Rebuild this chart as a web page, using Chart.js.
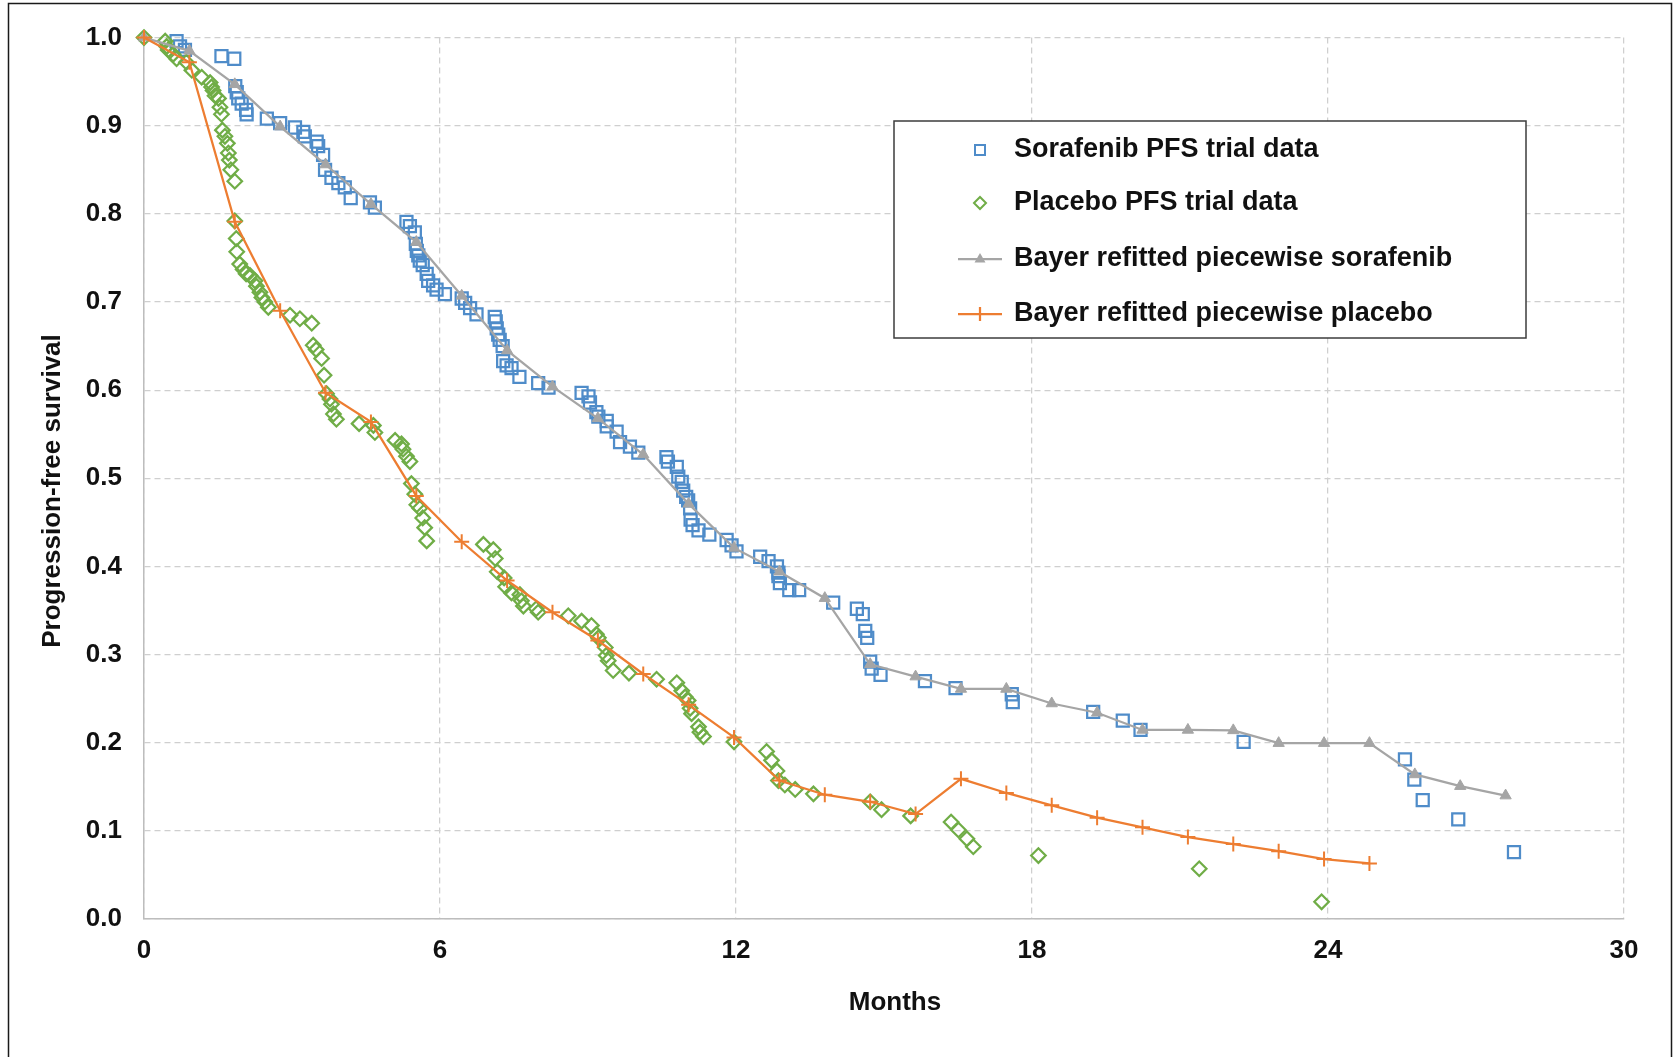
<!DOCTYPE html>
<html>
<head>
<meta charset="utf-8">
<title>Progression-free survival</title>
<script src="https://cdn.jsdelivr.net/npm/chart.js@4.4.0/dist/chart.umd.min.js"></script>
<style>
  html, body { margin: 0; padding: 0; background: #fff; }
  #pfs { display: block; }
</style>
</head>
<body>
<canvas id="pfs" width="1677" height="1057"></canvas>
<script>
// PFS curves: sorafenib vs placebo trial data + Bayer piecewise refit

const monthTicks = [0, 6, 12, 18, 24, 30];
const monthTickLabels = ["0", "6", "12", "18", "24", "30"];
const survivalTicks = [0, 0.1, 0.2, 0.3, 0.4, 0.5, 0.6, 0.7, 0.8, 0.9, 1.0];
const survivalTickLabels = ["0.0", "0.1", "0.2", "0.3", "0.4", "0.5", "0.6", "0.7", "0.8", "0.9", "1.0"];
const xTitle = "Months";
const yTitle = "Progression-free survival";

// Sorafenib PFS trial data (squares)
const soraMonths = [
  0.66, 0.73, 0.83, 1.57, 1.83, 1.85, 1.88, 1.91, 1.98, 2.07, 2.08, 2.49, 2.76, 3.06, 3.23, 3.26,
  3.50, 3.53, 3.63, 3.67, 3.80, 3.94, 4.07, 4.19, 4.58, 4.68, 5.32, 5.39, 5.49, 5.51, 5.53, 5.56,
  5.59, 5.65, 5.73, 5.76, 5.86, 5.93, 6.10, 6.44, 6.51, 6.61, 6.74, 7.11, 7.13, 7.15, 7.18, 7.21,
  7.27, 7.28, 7.35, 7.45, 7.61, 7.99, 8.20, 8.87, 9.01, 9.04, 9.17, 9.21, 9.38, 9.38, 9.58, 9.65,
  9.85, 10.02, 10.59, 10.62, 10.80, 10.83, 10.90, 10.93, 10.99, 11.03, 11.07, 11.08, 11.12, 11.24,
  11.46, 11.81, 11.91, 12.01, 12.49, 12.66, 12.83, 12.86, 12.86, 12.89, 13.08, 13.28, 13.97, 14.45,
  14.57, 14.62, 14.66, 14.72, 14.75, 14.93, 15.83, 16.45, 17.59, 17.61, 19.24, 19.84, 20.20, 22.29,
  25.56, 25.75, 25.92, 26.64, 27.77
];
const soraPFS = [
  0.996, 0.990, 0.986, 0.979, 0.976, 0.945, 0.938, 0.931, 0.925, 0.918, 0.913, 0.908, 0.903, 0.898, 0.893, 0.888,
  0.882, 0.877, 0.867, 0.850, 0.841, 0.835, 0.830, 0.818, 0.813, 0.807, 0.791, 0.786, 0.779, 0.766, 0.758, 0.753,
  0.747, 0.742, 0.732, 0.724, 0.719, 0.714, 0.709, 0.704, 0.699, 0.693, 0.686, 0.683, 0.678, 0.670, 0.663, 0.657,
  0.650, 0.633, 0.628, 0.625, 0.615, 0.608, 0.603, 0.597, 0.593, 0.586, 0.575, 0.570, 0.565, 0.559, 0.553, 0.541,
  0.536, 0.529, 0.524, 0.519, 0.513, 0.502, 0.496, 0.486, 0.479, 0.475, 0.466, 0.453, 0.447, 0.441,
  0.436, 0.430, 0.424, 0.417, 0.411, 0.406, 0.400, 0.393, 0.389, 0.381, 0.373, 0.373, 0.359, 0.352,
  0.346, 0.327, 0.319, 0.292, 0.284, 0.277, 0.270, 0.262, 0.255, 0.246, 0.235, 0.225, 0.2145, 0.201,
  0.181, 0.158, 0.135, 0.113, 0.076
];

// Placebo PFS trial data (diamonds)
const placMonths = [
  0, 0.43, 0.46, 0.49, 0.59, 0.66, 0.86, 0.97, 1.17, 1.34, 1.37, 1.40, 1.44, 1.51, 1.54, 1.57,
  1.59, 1.64, 1.69, 1.71, 1.73, 1.76, 1.84, 1.84, 1.87, 1.88, 1.94, 2.01, 2.07, 2.15, 2.25, 2.28,
  2.35, 2.39, 2.45, 2.52, 2.96, 3.16, 3.40, 3.43, 3.49, 3.60, 3.65, 3.70, 3.77, 3.80, 3.84, 3.90,
  4.36, 4.65, 4.68, 5.09, 5.22, 5.25, 5.32, 5.39, 5.42, 5.49, 5.53, 5.59, 5.65, 5.69, 5.73, 6.88,
  7.08, 7.12, 7.16, 7.30, 7.33, 7.45, 7.62, 7.65, 7.69, 7.95, 7.99, 8.60, 8.87, 9.07, 9.17, 9.21,
  9.35, 9.37, 9.41, 9.51, 9.83, 10.39, 10.80, 10.90, 10.97, 11.03, 11.07, 11.10, 11.24, 11.27, 11.34,
  11.96, 12.62, 12.72, 12.83, 12.86, 12.99, 13.20, 13.57, 14.72, 14.95, 15.54, 16.36, 16.51, 16.68,
  16.81, 18.13, 21.39, 23.87
];
const placPFS = [
  1.0, 0.996, 0.990, 0.986, 0.981, 0.976, 0.972, 0.963, 0.955, 0.949, 0.944, 0.940, 0.934, 0.931, 0.921, 0.913,
  0.895, 0.888, 0.880, 0.869, 0.861, 0.850, 0.837, 0.792, 0.772, 0.757, 0.743, 0.737, 0.732, 0.730, 0.724, 0.718,
  0.711, 0.705, 0.700, 0.694, 0.685, 0.681, 0.676, 0.651, 0.646, 0.636, 0.617, 0.596, 0.590, 0.584, 0.573, 0.567,
  0.562, 0.560, 0.552, 0.543, 0.539, 0.533, 0.525, 0.519, 0.494, 0.482, 0.470, 0.466, 0.455, 0.444, 0.429, 0.425,
  0.419, 0.409, 0.394, 0.387, 0.377, 0.370, 0.368, 0.361, 0.355, 0.352, 0.348, 0.344, 0.338, 0.333, 0.323, 0.319,
  0.308, 0.299, 0.293, 0.282, 0.279, 0.272, 0.268, 0.259, 0.252, 0.248, 0.239, 0.233, 0.218, 0.212, 0.207,
  0.201, 0.190, 0.180, 0.168, 0.157, 0.152, 0.147, 0.142, 0.133, 0.124, 0.117, 0.110, 0.101, 0.091,
  0.082, 0.072, 0.057, 0.0195
];

// Bayer refitted piecewise curves (4-weekly points)
const fitSoraMonths = [0, 0.92, 1.84, 2.76, 3.68, 4.6, 5.52, 6.44, 7.36, 8.28, 9.2, 10.12, 11.04, 11.96, 12.88,
  13.8, 14.72, 15.64, 16.56, 17.48, 18.4, 19.32, 20.24, 21.16, 22.08, 23.0, 23.92, 24.84, 25.76, 26.68, 27.6];
const fitSoraPFS = [1.0, 0.985, 0.947, 0.899, 0.856, 0.811, 0.768, 0.707, 0.645, 0.604, 0.568, 0.527, 0.471, 0.421, 0.394,
  0.364, 0.289, 0.275, 0.261, 0.261, 0.2445, 0.234, 0.2145, 0.2145, 0.214, 0.1995, 0.1995, 0.1995, 0.164, 0.1507, 0.140];

const fitPlacMonths = [0, 0.92, 1.84, 2.76, 3.68, 4.6, 5.52, 6.44, 7.36, 8.28, 9.2, 10.12, 11.04, 11.96, 12.88,
  13.8, 14.72, 15.64, 16.56, 17.48, 18.4, 19.32, 20.24, 21.16, 22.08, 23.0, 23.92, 24.84];
const fitPlacPFS = [1.0, 0.972, 0.791, 0.690, 0.597, 0.564, 0.480, 0.428, 0.384, 0.348, 0.316, 0.278, 0.243, 0.206, 0.157,
  0.141, 0.133, 0.119, 0.159, 0.143, 0.129, 0.115, 0.104, 0.093, 0.085, 0.077, 0.068, 0.063];

const BLUE = "#4f8cc9";
const GREEN = "#70ad47";
const GREY = "#a5a5a5";
const ORANGE = "#ed7d31";
const TEXT = "#111111";
const FONT = "'Liberation Sans', Arial, Helvetica, sans-serif";

function toPoints(xs, ys) {
  return xs.map(function (x, i) {
    return { x: x, y: ys[i] };
  });
}

const legendItems = [
  { label: "Sorafenib PFS trial data", kind: "square", color: BLUE },
  { label: "Placebo PFS trial data", kind: "diamond", color: GREEN },
  { label: "Bayer refitted piecewise sorafenib", kind: "triangle", color: GREY },
  { label: "Bayer refitted piecewise placebo", kind: "cross", color: ORANGE },
];

// white page, outer frame and the two axis titles
const framePlugin = {
  id: "frame",
  beforeDraw(chart) {
    const ctx = chart.ctx;
    ctx.save();
    ctx.fillStyle = "#ffffff";
    ctx.fillRect(0, 0, chart.width, chart.height);
    ctx.restore();
  },
  afterDraw(chart) {
    const ctx = chart.ctx;
    ctx.save();
    ctx.strokeStyle = "#1a1a1a";
    ctx.lineWidth = 1.5;
    ctx.strokeRect(8.5, 3.5, 1663, 1070);

    ctx.fillStyle = TEXT;
    ctx.font = "bold 26px " + FONT;
    ctx.textAlign = "center";
    ctx.textBaseline = "middle";
    ctx.fillText(xTitle, 895, 1003);

    ctx.translate(53, 491);
    ctx.rotate(-Math.PI / 2);
    ctx.fillText(yTitle, 0, 0);
    ctx.restore();
  },
};

// boxed legend inside the plot, like the Excel original
const boxLegendPlugin = {
  id: "boxLegend",
  afterDraw(chart) {
    const ctx = chart.ctx;
    const box = { x: 894, y: 121, w: 632, h: 217 };
    ctx.save();
    ctx.fillStyle = "#ffffff";
    ctx.fillRect(box.x, box.y, box.w, box.h);
    ctx.strokeStyle = "#3c3c3c";
    ctx.lineWidth = 1.5;
    ctx.strokeRect(box.x, box.y, box.w, box.h);

    const rowY = [150, 203, 259, 314];
    const mx = 980;
    legendItems.forEach(function (item, i) {
      const y = rowY[i];
      ctx.strokeStyle = item.color;
      ctx.fillStyle = item.color;
      if (item.kind === "square") {
        ctx.lineWidth = 2;
        ctx.strokeRect(mx - 5, y - 5, 10, 10);
      } else if (item.kind === "diamond") {
        ctx.lineWidth = 2;
        ctx.beginPath();
        ctx.moveTo(mx - 6, y);
        ctx.lineTo(mx, y - 6);
        ctx.lineTo(mx + 6, y);
        ctx.lineTo(mx, y + 6);
        ctx.closePath();
        ctx.stroke();
      } else {
        ctx.lineWidth = 2.25;
        ctx.beginPath();
        ctx.moveTo(mx - 22, y);
        ctx.lineTo(mx + 22, y);
        ctx.stroke();
        if (item.kind === "triangle") {
          ctx.beginPath();
          ctx.moveTo(mx, y - 6);
          ctx.lineTo(mx + 5.5, y + 3.5);
          ctx.lineTo(mx - 5.5, y + 3.5);
          ctx.closePath();
          ctx.fill();
        } else {
          ctx.beginPath();
          ctx.moveTo(mx, y - 7);
          ctx.lineTo(mx, y + 7);
          ctx.stroke();
        }
      }
      ctx.fillStyle = TEXT;
      ctx.font = "bold 27px " + FONT;
      ctx.textAlign = "left";
      ctx.textBaseline = "middle";
      ctx.fillText(item.label, 1014, y);
    });
    ctx.restore();
  },
};

const ctx = document.getElementById("pfs").getContext("2d");

new Chart(ctx, {
  type: "scatter",
  data: {
    datasets: [
      {
        label: "Bayer refitted piecewise placebo",
        data: toPoints(fitPlacMonths, fitPlacPFS),
        showLine: true,
        borderColor: ORANGE,
        borderWidth: 2.25,
        pointStyle: "cross",
        pointRadius: 7.5,
        pointBorderWidth: 2,
        pointBorderColor: ORANGE,
        pointBackgroundColor: ORANGE,
        tension: 0,
        clip: false,
        order: 0,
      },
      {
        label: "Bayer refitted piecewise sorafenib",
        data: toPoints(fitSoraMonths, fitSoraPFS),
        showLine: true,
        borderColor: GREY,
        borderWidth: 2.25,
        pointStyle: "triangle",
        pointRadius: 6.5,
        pointBorderWidth: 1,
        pointBorderColor: GREY,
        pointBackgroundColor: GREY,
        tension: 0,
        clip: false,
        order: 1,
      },
      {
        label: "Placebo PFS trial data",
        data: toPoints(placMonths, placPFS),
        showLine: false,
        pointStyle: "rectRot",
        pointRadius: 7.25,
        pointBorderWidth: 2.25,
        pointBorderColor: GREEN,
        pointBackgroundColor: "rgba(0,0,0,0)",
        clip: false,
        order: 2,
      },
      {
        label: "Sorafenib PFS trial data",
        data: toPoints(soraMonths, soraPFS),
        showLine: false,
        pointStyle: "rect",
        pointRadius: 8.5,
        pointBorderWidth: 2.25,
        pointBorderColor: BLUE,
        pointBackgroundColor: "rgba(0,0,0,0)",
        clip: false,
        order: 3,
      },
    ],
  },
  options: {
    responsive: false,
    animation: false,
    devicePixelRatio: 1,
    layout: {
      padding: { left: 0, top: 30, right: 53, bottom: 0 },
    },
    plugins: {
      legend: { display: false },
      tooltip: { enabled: false },
    },
    scales: {
      x: {
        type: "linear",
        min: 0,
        max: 30,
        afterBuildTicks: function (scale) {
          scale.ticks = monthTicks.map(function (v) {
            return { value: v };
          });
        },
        afterFit: function (scale) {
          scale.height = 138;
        },
        ticks: {
          autoSkip: false,
          maxRotation: 0,
          padding: 16,
          color: TEXT,
          font: { family: FONT, size: 26, weight: "bold" },
          callback: function (value, index) {
            return monthTickLabels[index];
          },
        },
        grid: {
          color: "#cfcfcf",
          lineWidth: 1.25,
          drawTicks: false,
        },
        border: {
          display: true,
          color: "#bdbdbd",
          width: 1.5,
          dash: [6, 4],
        },
      },
      y: {
        type: "linear",
        min: 0,
        max: 1,
        afterBuildTicks: function (scale) {
          scale.ticks = survivalTicks.map(function (v) {
            return { value: v };
          });
        },
        afterFit: function (scale) {
          scale.width = 144;
        },
        ticks: {
          autoSkip: false,
          padding: 22,
          color: TEXT,
          font: { family: FONT, size: 26, weight: "bold" },
          callback: function (value, index) {
            return survivalTickLabels[index];
          },
        },
        grid: {
          color: "#cfcfcf",
          lineWidth: 1.25,
          drawTicks: false,
        },
        border: {
          display: true,
          color: "#bdbdbd",
          width: 1.5,
          dash: [6, 4],
        },
      },
    },
  },
  plugins: [framePlugin, boxLegendPlugin],
});
</script>
</body>
</html>
